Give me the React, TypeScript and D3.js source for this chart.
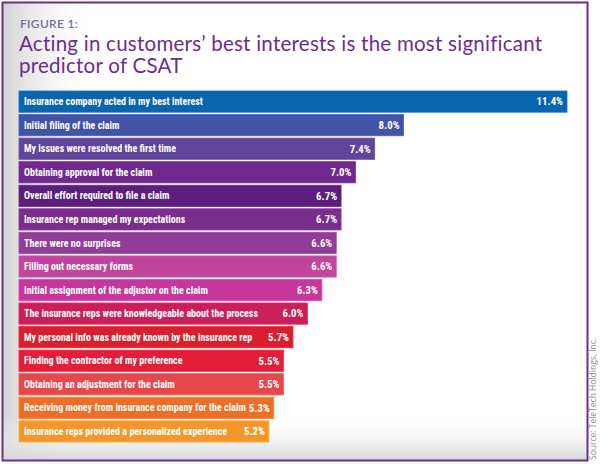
import React from "react";
import * as d3 from "d3";

const categories = [
  "Insurance company acted in my best interest",
  "Initial filing of the claim",
  "My issues were resolved the first time",
  "Obtaining approval for the claim",
  "Overall effort required to file a claim",
  "Insurance rep managed my expectations",
  "There were no surprises",
  "Filling out necessary forms",
  "Initial assignment of the adjustor on the claim",
  "The insurance reps were knowledgeable about the process",
  "My personal info was already known by the insurance rep",
  "Finding the contractor of my preference",
  "Obtaining an adjustment for the claim",
  "Receiving money from insurance company for the claim",
  "Insurance reps provided a personalized experience",
];
const values = [11.4, 8.0, 7.4, 7.0, 6.7, 6.7, 6.6, 6.6, 6.3, 6.0, 5.7, 5.5, 5.5, 5.3, 5.2];
const colors = [
  "#0b65ad", "#4053a5", "#5f459b", "#70298e", "#5a1f7c", "#7a2e8c", "#8f3d97",
  "#c1459c", "#c7369a", "#cb1f5b", "#d61f2f", "#e31e39", "#e6474b", "#ee6e25", "#f3972d",
];

const W = 600, H = 464;

export default function App() {
  const x = d3.scaleLinear().domain([0, 11.4]).range([19, 567]);
  const y = d3.scaleBand<number>().domain(d3.range(values.length)).range([91, 442]).paddingInner(0.1).paddingOuter(0);
  const labelFont = "'Liberation Sans Narrow', 'Arial Narrow', 'Roboto Condensed', Roboto, sans-serif";
  return (
    <svg width={W} height={H} style={{ position: "absolute", left: 0, top: 0, background: "#fff" }}>
      <defs>
        <linearGradient id="lg" x1="0" x2="1" y1="0" y2="0">
          <stop offset="0" stopColor="#d2d2d2" />
          <stop offset="0.16" stopColor="#ffffff" stopOpacity="0" />
        </linearGradient>
        <linearGradient id="bg" x1="0" x2="0" y1="0" y2="1">
          <stop offset="0.9" stopColor="#ffffff" stopOpacity="0" />
          <stop offset="1" stopColor="#d8d8d8" />
        </linearGradient>
      </defs>
      <rect x={3} y={3} width={584} height={457} fill="#fff" />
      <rect x={3} y={3} width={584} height={457} fill="url(#lg)" />
      <rect x={3} y={3} width={584} height={457} fill="url(#bg)" />
      <rect x={2.5} y={2.5} width={585} height={458} fill="none" stroke="#6a2c91" strokeWidth={2} />
      <text x={20} y={27.5} fontFamily="Lato, 'Open Sans', sans-serif" fontSize={12} fontWeight={600} fill="#7b6a9c" letterSpacing={0.3}>
        FIGURE 1:
      </text>
      <text fontFamily="Lato, 'Open Sans', sans-serif" fontSize={20.5} fill="#6b2d90" letterSpacing={0.25}>
        <tspan x={19} y={50.5}>Acting in customers’ best interests is the most significant</tspan>
        <tspan x={19} y={73}>predictor of CSAT</tspan>
      </text>
      {values.map((v, i) => {
        const y0 = y(i)!;
        const bh = y.bandwidth();
        return (
          <g key={i}>
            <rect x={x(0)} y={y0} width={x(v) - x(0)} height={bh} fill={colors[i]} stroke={d3.color(colors[i])!.brighter(0.4).toString()} strokeWidth={0.8} />
            <text x={x(0) + 5} y={y0 + bh / 2 + 3.6} fontFamily={labelFont} fontWeight="bold" fontSize={10} fill="#fff">
              {categories[i]}
            </text>
            <text x={x(v) - 4} y={y0 + bh / 2 + 3.8} textAnchor="end" fontFamily={labelFont} fontWeight="bold" fontSize={10.8} fill="#fff">
              {v.toFixed(1)}%
            </text>
          </g>
        );
      })}
      <text transform="translate(596,460) rotate(-90)" fontFamily="'Liberation Sans Narrow', 'Open Sans', sans-serif" fontSize={8.5} fill="#8a8a8a">
        Source: TeleTech Holdings, Inc.
      </text>
    </svg>
  );
}
